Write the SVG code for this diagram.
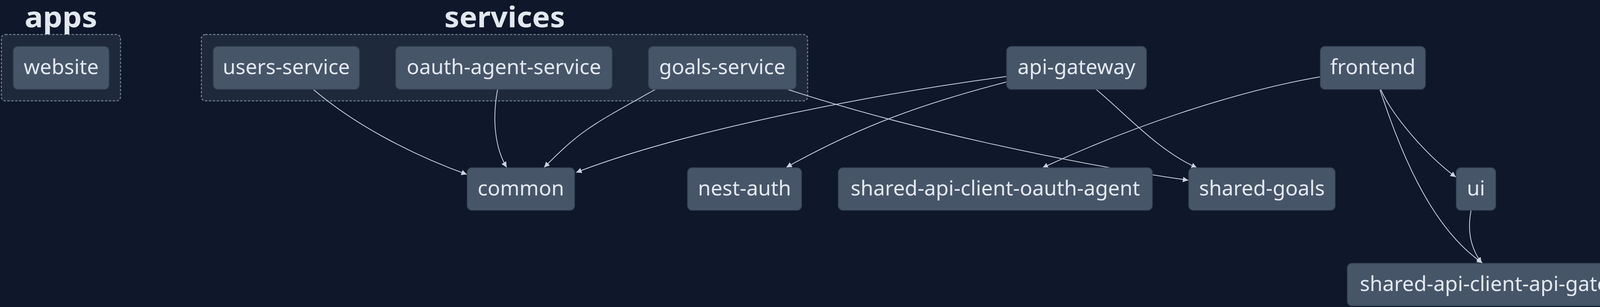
<svg xmlns="http://www.w3.org/2000/svg" width="4252" height="787" viewBox="0 0 4252 787">
<style>
.bg{fill:#0f172a}
.cluster rect{fill:#1e293b;stroke:#64748b;stroke-width:3;stroke-dasharray:6 4}
.title{font-family:"Noto Sans","DejaVu Sans",sans-serif;font-weight:bold;font-size:73px;fill:#e2e8f0;text-anchor:middle}
.node rect{fill:#475569;stroke:#334155;stroke-width:2}
.node text{font-family:"Noto Sans","DejaVu Sans",sans-serif;font-size:53px;fill:#e2e8f0;text-anchor:middle}
.edges path{fill:none;stroke:#cbd5e1;stroke-width:2;marker-end:url(#arrow)}
</style>
<defs>
<marker id="arrow" viewBox="0 0 10 10" refX="10" refY="5" markerUnits="userSpaceOnUse" markerWidth="14" markerHeight="14" orient="auto">
<path d="M0,0 L10,5 L0,10 z" fill="#cbd5e1"/>
</marker>
</defs>
<rect class="bg" x="0" y="0" width="4252" height="787"/>
<g id="cluster-apps" class="cluster">
<rect x="3.5" y="88.5" width="305" height="170" rx="10"/>
<text class="title" x="156" y="70" textLength="186" lengthAdjust="spacingAndGlyphs">apps</text>
</g>
<g id="cluster-services" class="cluster">
<rect x="515.5" y="88.5" width="1552" height="170" rx="10"/>
<text class="title" x="1292" y="70" textLength="309" lengthAdjust="spacingAndGlyphs">services</text>
</g>
<g id="edges" class="edges">
<path d="M802,229 C902,315 1045,393 1195,447"/>
<path d="M1274,229 C1262,290 1262,370 1297,429"/>
<path d="M1678,229 C1505,326 1488,334 1393,429"/>
<path d="M2577,196 C2277,236 1775,326 1475,442"/>
<path d="M2577,210 C2377,262 2213,317 2013,429"/>
<path d="M2016,229 C2316,328 2742,420 3042,462"/>
<path d="M2806,229 C2886,296 2964,385 3064,430"/>
<path d="M3379,197 C3159,235 2889,327 2669,430"/>
<path d="M3534,228 C3565,298 3651,397 3727,454"/>
<path d="M3532,228 C3578,366 3655,578 3795,674"/>
<path d="M3766,539 C3758,580 3760,630 3793,674"/>
</g>
<g id="website" class="node"><rect x="34" y="119" width="245" height="110" rx="12"/><text x="156.5" y="190">website</text></g>
<g id="users-service" class="node"><rect x="546" y="119" width="374" height="110" rx="12"/><text x="733" y="190">users-service</text></g>
<g id="oauth-agent-service" class="node"><rect x="1013" y="119" width="554" height="110" rx="12"/><text x="1290" y="190">oauth-agent-service</text></g>
<g id="goals-service" class="node"><rect x="1660" y="119" width="378" height="110" rx="12"/><text x="1849" y="190">goals-service</text></g>
<g id="api-gateway" class="node"><rect x="2577" y="119" width="358" height="110" rx="12"/><text x="2756" y="190">api-gateway</text></g>
<g id="frontend" class="node"><rect x="3380" y="119" width="269" height="110" rx="12"/><text x="3514.5" y="190">frontend</text></g>
<g id="common" class="node"><rect x="1196" y="430" width="275" height="109" rx="12"/><text x="1333.5" y="500.5">common</text></g>
<g id="nest-auth" class="node"><rect x="1760" y="430" width="292" height="109" rx="12"/><text x="1906" y="500.5">nest-auth</text></g>
<g id="shared-api-client-oauth-agent" class="node"><rect x="2146" y="430" width="804" height="109" rx="12"/><text x="2548" y="500.5">shared-api-client-oauth-agent</text></g>
<g id="shared-goals" class="node"><rect x="3043" y="430" width="375" height="109" rx="12"/><text x="3230.5" y="500.5">shared-goals</text></g>
<g id="ui" class="node"><rect x="3728" y="430" width="101" height="109" rx="12"/><text x="3778.5" y="500.5">ui</text></g>
<g id="shared-api-client-api-gateway" class="node"><rect x="3449" y="675" width="799" height="109" rx="12"/><text x="3848.5" y="745.5">shared-api-client-api-gateway</text></g>
</svg>
